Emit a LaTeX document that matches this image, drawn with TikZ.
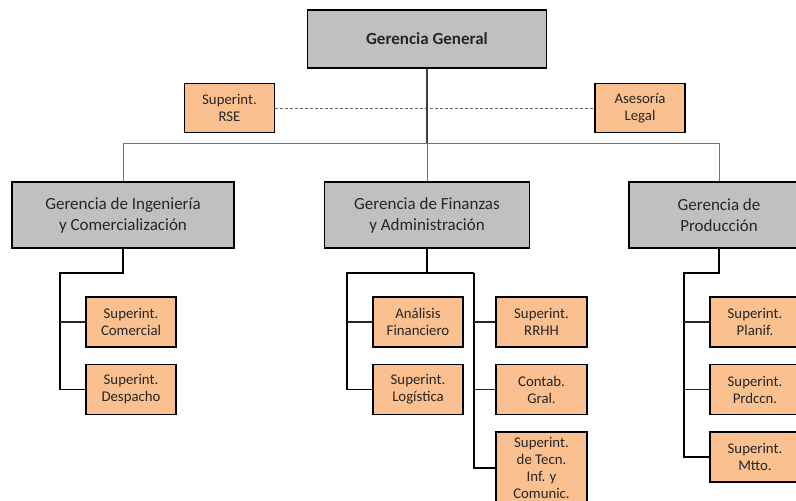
\documentclass[tikz,border=0pt]{standalone}
\usepackage{fontspec}
\setmainfont{Carlito}
\usepackage{xcolor}
\usetikzlibrary{positioning}

\definecolor{boxgrey}{HTML}{C0C0C0}
\definecolor{boxorange}{HTML}{FAC090}
\definecolor{textdark}{HTML}{262626}

\begin{document}
\begin{tikzpicture}[x=1pt, y=-1pt,
    every node/.style={text=textdark, align=center, inner sep=0pt},
    topbox/.style={rectangle, draw=black, line width=1.5pt, fill=boxgrey, minimum width=239pt, minimum height=58pt, font=\bfseries\fontsize{17}{21}\selectfont},
    gerbox/.style={rectangle, draw=black, line width=1.5pt, fill=boxgrey, minimum height=66pt, font=\fontsize{17}{21}\selectfont},
    subbox/.style={rectangle, draw=black, line width=1.5pt, fill=boxorange, minimum width=90pt, minimum height=50pt, font=\fontsize{14.8}{17}\selectfont},
    link/.style={draw=black, line width=1.8pt},
    branch/.style={draw=black!85, line width=1.2pt},
    staff/.style={draw=black!60, line width=1pt, dashed, dash pattern=on 3pt off 2pt}]
    \clip (0,0) rectangle (796,501);
    \begin{scope}
        % Top level
        \node[topbox] (general) at (427,39) {Gerencia General};
        \node[subbox, minimum height=49pt] (rse) at (229.5,108) {Superint.\\RSE};
        \node[subbox, minimum height=49pt] (legal) at (640,108) {Asesoría\\Legal};

        % Second level
        \node[gerbox, minimum width=222pt] (ingenieria) at (123,215) {Gerencia de Ingeniería\\y Comercialización};
        \node[gerbox, minimum width=205pt] (finanzas) at (427,215) {Gerencia de Finanzas\\y Administración};
        \node[gerbox, minimum width=180pt] (produccion) at (719,215) {Gerencia de\\Producción};

        % Below Ingenieria
        \node[subbox] (comercial) at (131,322) {Superint.\\Comercial};
        \node[subbox, below=16pt of comercial] (despacho) {Superint.\\Despacho};

        % Below Finanzas
        \node[subbox] (analisis) at (418,322) {Análisis\\Financiero};
        \node[subbox, below=16pt of analisis] (logistica) {Superint.\\Logística};
        \node[subbox, minimum width=91pt] (rrhh) at (541.5,322) {Superint.\\RRHH};
        \node[subbox, minimum width=91pt, below=16pt of rrhh] (contab) {Contab.\\Gral.};
        \node[subbox, minimum width=91pt, minimum height=72pt, below=16pt of contab] (tecn) {Superint.\\de Tecn.\\Inf. y\\Comunic.};

        % Below Produccion
        \node[subbox] (planif) at (755,322) {Superint.\\Planif.};
        \node[subbox, below=16pt of planif] (prdccn) {Superint.\\Prdccn.};
        \node[subbox, below=16pt of prdccn] (mtto) {Superint.\\Mtto.};

        % Connections from the top
        \coordinate (bar) at (0,143);
        \draw[staff] (rse.east) -- (legal.west);
        \draw[draw=black!75, line width=1.2pt] (general.south) -- (general.south |- bar);
        \draw[draw=black!55, line width=1pt] (ingenieria.north) -- (ingenieria.north |- bar) -- (produccion.north |- bar) -- (produccion.north);
        \draw[draw=black!55, line width=1pt] (finanzas.north |- bar) -- (finanzas.north);

        % Ingenieria branches
        \coordinate (ingbus) at (60,273);
        \draw[link] (ingenieria.south) |- (ingbus) -- (ingbus |- despacho.west) -- (despacho.west);
        \draw[branch] (ingbus |- comercial.west) -- (comercial.west);

        % Finanzas branches
        \coordinate (finleft) at (347,273);
        \coordinate (finright) at (474,273);
        \draw[link] (finanzas.south) -- (finanzas.south |- finleft);
        \draw[link] (finright) -- (finleft) -- (finleft |- logistica.west) -- (logistica.west);
        \draw[branch] (finleft |- analisis.west) -- (analisis.west);
        \draw[link] (finright) -- (finright |- tecn.west) -- (tecn.west);
        \draw[branch] (finright |- rrhh.west) -- (rrhh.west);
        \draw[branch] (finright |- contab.west) -- (contab.west);

        % Produccion branches
        \coordinate (prodbus) at (684,273);
        \draw[link] (produccion.south) |- (prodbus) -- (prodbus |- mtto.west) -- (mtto.west);
        \draw[branch] (prodbus |- planif.west) -- (planif.west);
        \draw[branch] (prodbus |- prdccn.west) -- (prdccn.west);
    \end{scope}
\end{tikzpicture}
\end{document}
